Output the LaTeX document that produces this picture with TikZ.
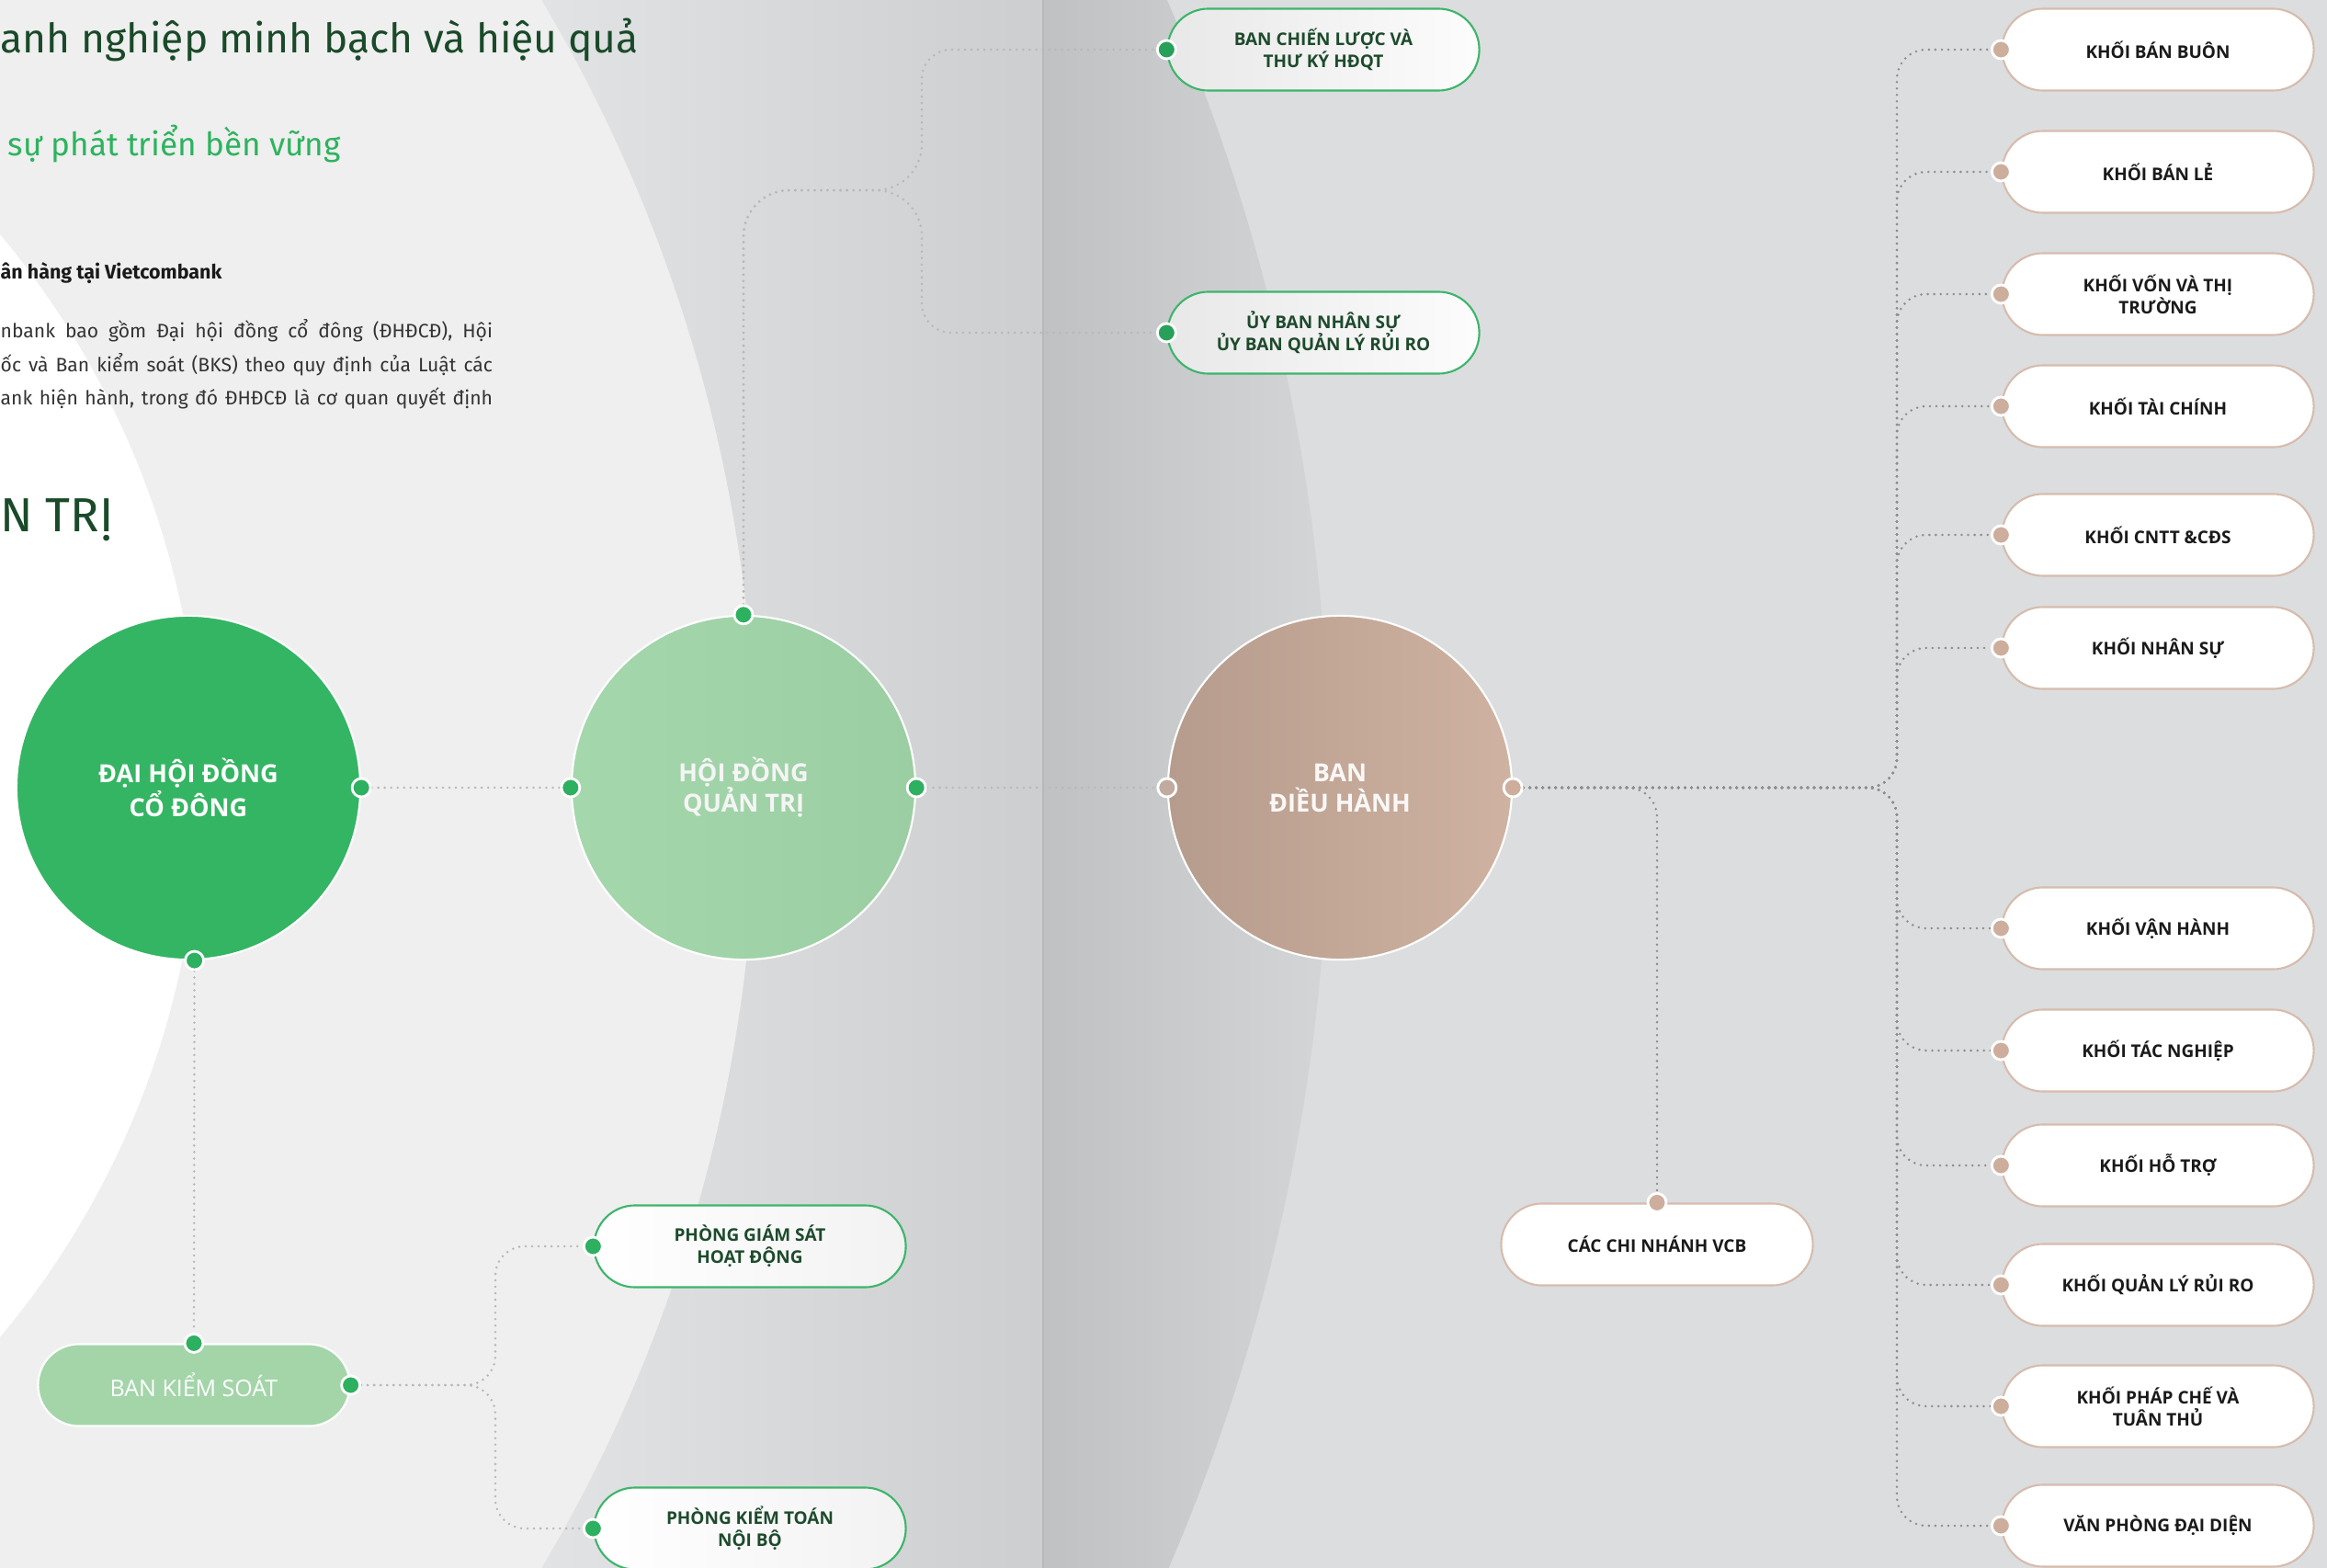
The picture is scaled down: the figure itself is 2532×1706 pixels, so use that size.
\documentclass[tikz,border=0pt]{standalone}
\usepackage{fontspec}
\setmainfont{Open Sans}
\newfontfamily\headfont{Fira Sans}
\usetikzlibrary{shapes.misc}
\definecolor{vcbgreen}{HTML}{34B563}
\definecolor{dotgreen}{HTML}{2DB060}
\definecolor{topgreen}{HTML}{27A159}
\definecolor{palegreen}{HTML}{A3D5A9}
\definecolor{hdqtleft}{HTML}{A5D7AC}
\definecolor{hdqtright}{HTML}{9BCEA2}
\definecolor{bdhleft}{HTML}{B69C8D}
\definecolor{bdhright}{HTML}{CFB2A1}
\definecolor{pillgreen}{HTML}{3DB56B}
\definecolor{textgreen}{HTML}{1D4B2C}
\definecolor{headgreen}{HTML}{1A4A29}
\definecolor{subgreen}{HTML}{2DB35F}
\definecolor{textdark}{HTML}{1A1A1A}
\definecolor{bodygray}{HTML}{333333}
\definecolor{tanline}{HTML}{D6BCAD}
\definecolor{tandot}{HTML}{CDAE9C}
\definecolor{linegray}{HTML}{B8B8B8}
\definecolor{linedark}{HTML}{8E8E8E}
\definecolor{bgright}{HTML}{DCDDDF}
\definecolor{bglight}{HTML}{EFEFEF}
\definecolor{bandleft}{HTML}{E3E4E6}
\definecolor{bandright}{HTML}{CDCECF}
\definecolor{foldleft}{HTML}{C0C1C3}
\definecolor{foldright}{HTML}{D5D6D7}
\definecolor{foldline}{HTML}{B6B7B9}
\pgfdeclarelayer{back}
\pgfdeclarelayer{links}
\pgfsetlayers{back,links,main}
\begin{document}
\begin{tikzpicture}[x=0.01cm, y=-0.01cm,
  link/.style={draw=linegray, line width=0.8pt, line cap=round, dash pattern=on 0pt off 2pt, rounded corners=0.32cm},
  rlink/.style={link, draw=linedark},
  bigcircle/.style={circle, minimum size=3.74cm, inner sep=0pt, draw=white, line width=0.6pt, align=center, text=white, font=\bfseries\fontsize{7.7}{9.4}\selectfont},
  pill/.style={rounded rectangle, minimum width=3.39cm, minimum height=0.89cm, inner sep=0pt, line width=0.6pt, align=center, font=\bfseries\fontsize{5.4}{6.8}\selectfont},
  greenpill/.style={pill, draw=pillgreen, text=textgreen},
  tanpill/.style={pill, draw=tanline, fill=white, text=textdark},
  gdot/.style={circle, inner sep=0pt, minimum size=0.2cm, fill=dotgreen, draw=white, line width=0.8pt},
  tdot/.style={gdot, fill=tandot},
  intro/.style={inner sep=0pt, anchor=base west},
  bodyline/.style={intro, text=bodygray, font=\headfont\fontsize{6}{8}\selectfont},
]
\useasboundingbox (0,0) rectangle (2532,1706);

\begin{pgfonlayer}{back}
  \clip (0,0) rectangle (2532,1706);
  \fill[bgright] (0,0) rectangle (2532,1706);
  \begin{scope}
    \clip (-708,855) circle (21.53cm);
    \shade[left color=foldleft, right color=foldright] (1135,0) rectangle (1460,1706);
    \fill[foldright] (1460,0) rectangle (2532,1706);
  \end{scope}
  \fill[bandleft] (0,0) rectangle (560,1706);
  \shade[left color=bandleft, right color=bandright] (560,0) rectangle (1135,1706);
  \fill[bglight] (-848,853) circle (16.7cm);
  \fill[white] (-718,855) circle (9.35cm);
  \draw[foldline, line width=0.5pt] (1135,0) -- (1135,1706);
\end{pgfonlayer}

\node[intro, text=headgreen, font=\headfont\fontsize{12.6}{15}\selectfont] (head) at (0,58) {anh nghiệp minh bạch và hiệu quả};
\node[intro, text=subgreen, font=\headfont\fontsize{10}{12}\selectfont] (subhead) at (8,170) {sự phát triển bền vững};
\node[intro, text=textdark, font=\headfont\bfseries\fontsize{6.1}{8}\selectfont] (lead) at (0,304) {ân hàng tại Vietcombank};
\node[bodyline] (body1) at (0,368) {\makebox[5.35cm][s]{nbank bao gồm Đại hội đồng cổ đông (ĐHĐCĐ), Hội}};
\node[bodyline] (body2) at (0,404) {\makebox[5.35cm][s]{ốc và Ban kiểm soát (BKS) theo quy định của Luật các}};
\node[bodyline] (body3) at (0,440) {\makebox[5.35cm][s]{ank hiện hành, trong đó ĐHĐCĐ là cơ quan quyết định}};
\node[intro, text=headgreen, font=\headfont\fontsize{14.8}{17}\selectfont] (title) at (0,578) {N TRỊ};

\node[bigcircle, fill=vcbgreen] (dhdcd) at (205,857) {ĐẠI HỘI ĐỒNG\\CỔ ĐÔNG};
\node[bigcircle, left color=hdqtleft, right color=hdqtright, text=white!96!black] (hdqt) at (809,857) {HỘI ĐỒNG\\QUẢN TRỊ};
\node[bigcircle, left color=bdhleft, right color=bdhright, text=white!93!bdhleft] (bdh) at (1458,857) {BAN\\ĐIỀU HÀNH};

\node[pill, fill=palegreen, draw=white, text=white, font=\fontsize{7.1}{8}\selectfont] (bks) at (211,1507) {BAN KIỂM SOÁT};
\node[greenpill, left color=white, right color=black!5!white] (pgs) at (816,1356) {PHÒNG GIÁM SÁT\\HOẠT ĐỘNG};
\node[greenpill, left color=white, right color=black!5!white] (pkt) at (816,1663) {PHÒNG KIỂM TOÁN\\NỘI BỘ};
\node[greenpill, left color=black!9!white, right color=black!1!white] (bcl) at (1440,54) {BAN CHIẾN LƯỢC VÀ\\THƯ KÝ HĐQT};
\node[greenpill, left color=black!9!white, right color=black!1!white] (ub) at (1440,362) {ỦY BAN NHÂN SỰ\\ỦY BAN QUẢN LÝ RỦI RO};
\node[tanpill] (ccn) at (1803,1354) {CÁC CHI NHÁNH VCB};

\node[gdot] (dhdcd-e) at (dhdcd.east) {};
\node[gdot] (dhdcd-s) at (dhdcd.-88) {};
\node[gdot] (hdqt-w) at (hdqt.west) {};
\node[gdot] (hdqt-e) at (hdqt.east) {};
\node[gdot] (hdqt-n) at (hdqt.north) {};
\node[tdot, fill=bdhleft!85!white] (bdh-w) at (bdh.west) {};
\node[tdot] (bdh-e) at (bdh.east) {};
\node[gdot] (bks-n) at (bks.north) {};
\node[gdot] (bks-e) at (bks.east) {};
\node[gdot] (pgs-w) at (pgs.west) {};
\node[gdot] (pkt-w) at (pkt.west) {};
\node[gdot, fill=topgreen] (bcl-w) at (bcl.west) {};
\node[gdot, fill=topgreen] (ub-w) at (ub.west) {};
\node[tdot] (ccn-n) at (ccn.north) {};

\coordinate (hdqtJ) at (1003,207);
\coordinate (bksJ) at (539,1507);
\coordinate (trunk) at (2064,857);

\begin{pgfonlayer}{links}
  \draw[link] (dhdcd-e) -- (hdqt-w);
  \draw[link] (dhdcd-s) -- (bks-n);
  \draw[link] (hdqt-e) -- (bdh-w);
  \draw[link] (hdqt-n) [rounded corners=0.5cm] |- (hdqtJ) [rounded corners=0.32cm] |- (bcl-w);
  \draw[link] (hdqt-n) [rounded corners=0.5cm] |- (hdqtJ) [rounded corners=0.32cm] |- (ub-w);
  \draw[link] (bks-e) -- (bksJ) |- (pgs-w);
  \draw[link] (bks-e) -- (bksJ) |- (pkt-w);
  \draw[rlink] (bdh-e) -| (ccn-n);
\end{pgfonlayer}

\foreach \ky/\klabel [count=\i] in {
  54/{KHỐI BÁN BUÔN},
  187/{KHỐI BÁN LẺ},
  320/{KHỐI VỐN VÀ THỊ\\TRƯỜNG},
  442/{KHỐI TÀI CHÍNH},
  582/{KHỐI CNTT \&CĐS},
  705/{KHỐI NHÂN SỰ},
  1010/{KHỐI VẬN HÀNH},
  1143/{KHỐI TÁC NGHIỆP},
  1268/{KHỐI HỖ TRỢ},
  1398/{KHỐI QUẢN LÝ RỦI RO},
  1530/{KHỐI PHÁP CHẾ VÀ\\TUÂN THỦ},
  1660/{VĂN PHÒNG ĐẠI DIỆN}}{
  \node[tanpill] (khoi\i) at (2348,\ky) {\klabel};
  \node[tdot] (khoi\i-dot) at (khoi\i.west) {};
  \begin{pgfonlayer}{links}
    \draw[rlink] (bdh-e) -- (trunk) |- (khoi\i-dot);
  \end{pgfonlayer}
}
\end{tikzpicture}
\end{document}
